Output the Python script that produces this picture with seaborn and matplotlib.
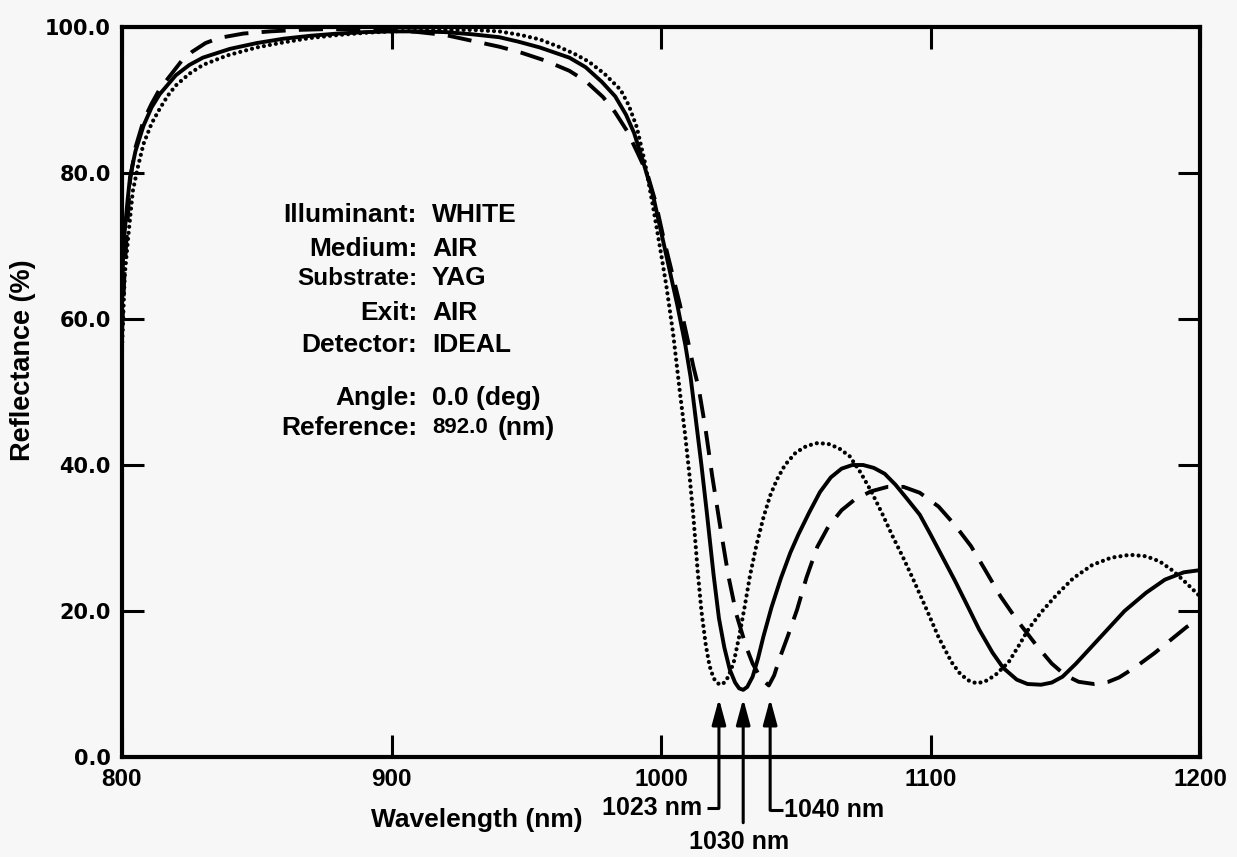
import matplotlib
matplotlib.use("Agg")
import matplotlib.pyplot as plt
import seaborn as sns
import pandas as pd

# ---------------- data ----------------
wl_solid = [800, 800.5, 802, 803, 805, 808, 811, 814, 820, 825, 830, 840, 850, 860, 870, 880, 890,
            900, 910, 920, 930, 940, 947, 955, 966, 972, 978, 983, 987, 990, 993, 997, 1000,
            1003, 1006, 1009, 1011, 1013, 1015, 1017, 1019.5, 1021.5, 1023.5, 1025.5, 1027.5,
            1029, 1030.5, 1032, 1034, 1036, 1038, 1041, 1044.5, 1048, 1051, 1055, 1059, 1063,
            1067, 1071, 1075, 1079, 1083, 1087, 1091, 1096, 1100, 1105, 1109, 1114, 1118, 1123,
            1127, 1132, 1136, 1141, 1145, 1149, 1154, 1160, 1166, 1172, 1180, 1187, 1194, 1200]
r_solid = [62, 70, 76, 79.5, 83, 86.5, 89, 90.8, 93.4, 94.8, 95.8, 97, 97.8, 98.4, 98.8, 99.1, 99.3,
           99.4, 99.4, 99.3, 99.0, 98.6, 98.0, 97.2, 95.8, 94.5, 92.5, 90.5, 88, 85.5, 82, 77, 72,
           67, 62, 56.5, 52, 46, 40, 33.5, 25, 19, 15, 12, 10.2,
           9.4, 9.2, 9.6, 11, 13.5, 16.5, 20.5, 24.5, 28, 30.5, 33.5, 36.3, 38.3,
           39.5, 40, 40, 39.6, 38.8, 37.3, 35.5, 33.2, 30.5, 27, 24.2, 20.5, 17.5, 14.3,
           12.2, 10.6, 10, 9.9, 10.2, 11, 12.8, 15.2, 17.6, 20, 22.5, 24.3, 25.3, 25.6]

wl_dotted = [800, 801, 802.5, 804, 806, 808, 811, 814, 817, 820, 825, 830, 839, 850, 860, 870, 880,
             890, 900, 910, 920, 930, 940, 948, 955, 962, 968, 973, 979, 985, 988, 991, 994, 997,
             1000, 1002, 1004.5, 1007, 1009, 1010.6, 1012, 1013.6, 1015, 1016.6, 1018, 1019.5,
             1021, 1022.3, 1023.5, 1025, 1027, 1029, 1031, 1033, 1035.4, 1038, 1040.5, 1043,
             1046, 1050, 1054, 1058, 1062, 1066, 1070, 1074, 1078, 1082, 1086, 1090, 1094,
             1098.8, 1103, 1107.8, 1111, 1114, 1117, 1120, 1124, 1129, 1133, 1136.5, 1141,
             1147, 1153, 1160, 1167, 1174, 1180, 1185, 1190, 1195, 1200]
r_dotted = [56, 66, 72, 77.5, 81, 84, 86.8, 88.8, 90.6, 92, 93.6, 94.8, 96.1, 97.2, 97.9, 98.5, 98.9,
            99.2, 99.4, 99.5, 99.6, 99.6, 99.4, 98.9, 98.3, 97.3, 96.3, 95.3, 93.6, 91.4, 89.3, 86.3, 81.5, 75.5,
            69, 64.5, 58, 50, 44, 38.5, 33, 25.5, 20, 15.4, 12.5, 10.8,
            10.1, 9.9, 10.2, 11, 13, 16.5, 20.5, 24.8, 29, 32.8, 35.8, 38,
            40, 41.7, 42.6, 43, 42.9, 42.3, 41.2, 39, 36.4, 33.4, 30.2, 27.2, 24,
            20, 16.4, 13, 11.4, 10.5, 10.1, 10.3, 11.2, 13, 15.4, 17.6, 19.8,
            22.3, 24.5, 26.3, 27.3, 27.7, 27.5, 26.8, 25.5, 23.8, 22]

wl_dashed = [800, 801, 803, 805, 808, 811, 814, 818, 822, 826, 831, 836, 845, 855, 865, 875, 890,
             900, 910, 920, 930, 940, 948, 957, 966, 972, 978.5, 983, 987.5, 991.5, 995, 998,
             1001, 1004, 1007, 1010, 1012, 1014, 1016.5, 1019, 1022, 1025, 1028, 1031.5, 1034,
             1037, 1040, 1042, 1044, 1047, 1050.5, 1054, 1058, 1062, 1067, 1072, 1078, 1084,
             1090, 1096, 1103, 1109, 1115, 1120, 1126, 1132, 1139.5, 1145, 1150, 1155, 1160.6,
             1166, 1170, 1176, 1183, 1190, 1195, 1200]
r_dashed = [58, 67, 79, 83.5, 87.2, 89.5, 91.5, 93.4, 95.3, 96.6, 97.8, 98.5, 99.1, 99.4, 99.6, 99.7, 99.7,
            99.6, 99.3, 98.9, 98.1, 97.3, 96.5, 95.4, 94, 92.6, 90.4, 88.3, 85.7, 82.6, 79.8, 76,
            71, 66.5, 62, 57, 53.5, 50.5, 45, 38.5, 31.5, 24.8, 19.5, 15.2, 12.8,
            10.8, 9.8, 11.2, 13.5, 16.5, 20.2, 24.6, 28.8, 31.5, 33.8, 35.3, 36.4, 37,
            37, 36.2, 34.3, 31.8, 28.9, 25.8, 22, 18.8, 15.2, 12.8, 11.2, 10.3, 10,
            10.3, 10.9, 12.3, 14.2, 16.3, 17.8, 19]

x_ticks = [800, 900, 1000, 1100, 1200]
x_ticklabels = ["800", "900", "1000", "1100", "1200"]
y_ticks = [0, 20, 40, 60, 80, 100]
y_ticklabels = ["0.0", "20.0", "40.0", "60.0", "80.0", "100.0"]

marker_wl = [1021.5, 1030.5, 1040.5]
marker_labels = ["1023 nm", "1030 nm", "1040 nm"]

info_keys = ["Illuminant:", "Medium:", "Substrate:", "Exit:", "Detector:", "Angle:", "Reference:"]
info_vals = ["WHITE", "AIR", "YAG", "AIR", "IDEAL", "0.0 (deg)", "892.0"]

# ---------------- styling ----------------
sns.set_style("ticks")
BG = "#f7f7f7"
plt.rcParams["font.family"] = ["Liberation Sans", "DejaVu Sans"]
plt.rcParams["font.weight"] = "bold"
for key in ["text.color", "axes.labelcolor", "xtick.color", "ytick.color", "axes.edgecolor"]:
    plt.rcParams[key] = "black"

fig = plt.figure(figsize=(12.37, 8.57), dpi=100, facecolor=BG)
ax = fig.add_axes([122 / 1237, 1 - 757 / 857, 1078 / 1237, 730 / 857])
ax.set_facecolor(BG)

df_s = pd.DataFrame({"wl": wl_solid, "R": r_solid})
df_d = pd.DataFrame({"wl": wl_dotted, "R": r_dotted})
df_a = pd.DataFrame({"wl": wl_dashed, "R": r_dashed})

sns.lineplot(data=df_s, x="wl", y="R", ax=ax, color="black", lw=2.8,
             linestyle="-", sort=True, errorbar=None)
sns.lineplot(data=df_d, x="wl", y="R", ax=ax, color="black", lw=3.0,
             linestyle=(0, (0.01, 1.45)), dash_capstyle="round", sort=True, errorbar=None)
sns.lineplot(data=df_a, x="wl", y="R", ax=ax, color="black", lw=2.8,
             linestyle=(0, (6.2, 3.4)), sort=True, errorbar=None)

ax.set_xlim(800, 1200)
ax.set_ylim(0, 100)
ax.set_xticks(x_ticks)
ax.set_xticklabels(x_ticklabels, fontsize=17.5, fontweight="bold", family="Liberation Sans")
ax.set_yticks(y_ticks)
ax.set_yticklabels(y_ticklabels, fontsize=15, fontweight="bold", family="DejaVu Sans")
ax.tick_params(axis="both", which="major", direction="in", length=16, width=2.2,
               top=True, right=True, color="black", labelcolor="black")
ax.tick_params(axis="x", pad=8)
ax.tick_params(axis="y", pad=8)
for s in ax.spines.values():
    s.set_linewidth(3)
    s.set_color("black")
    s.set_visible(True)

ax.set_xlabel("Wavelength (nm)", fontsize=19, fontweight="bold", color="black")
ax.xaxis.set_label_coords((477 - 122) / 1078, -(820 - 757) / 730)
ax.xaxis.label.set_va("center")
ax.set_ylabel("Reflectance (%)", fontsize=19.5, fontweight="bold", color="black")
ax.yaxis.set_label_coords((23 - 122) / 1078, (757 - 360) / 730)
ax.yaxis.label.set_va("center")

# ---------------- info text block ----------------
row_y = [74.2, 69.6, 65.6, 60.8, 56.4, 49.2, 45.1]
key_x, val_x = 909.5, 915.0
for k, v, yy in zip(info_keys, info_vals, row_y):
    ax.text(key_x, yy, k, ha="right", va="center",
            fontsize=17.5 if k == "Substrate:" else 19, fontweight="bold", color="black")
    ax.text(val_x, yy, v, ha="left", va="center",
            fontsize=16 if v == "892.0" else 19, fontweight="bold", color="black")
ax.text(939.5, row_y[-1], "(nm)", ha="left", va="center", fontsize=19, fontweight="bold",
        color="black")

# ---------------- wavelength markers (arrows below the minima) ----------------
tip = 8.0
ends = [-7.0, -9.0, -7.3]
for wl, yend in zip(marker_wl, ends):
    ax.annotate("", xy=(wl, tip), xytext=(wl, yend),
                arrowprops=dict(arrowstyle="-|>,head_length=1.55,head_width=0.42",
                                lw=2.2, color="black", shrinkA=0, shrinkB=0),
                annotation_clip=False)
# label stubs and texts
ax.plot([marker_wl[0] - 4.5, marker_wl[0]], [ends[0], ends[0]], color="black", lw=2.2,
        clip_on=False, solid_capstyle="butt")
ax.text(marker_wl[0] - 6.3, ends[0], marker_labels[0], ha="right", va="center",
        fontsize=18, fontweight="bold", clip_on=False, color="black")
ax.plot([marker_wl[2], marker_wl[2] + 4.8], [ends[2], ends[2]], color="black", lw=2.2,
        clip_on=False, solid_capstyle="butt")
ax.text(marker_wl[2] + 5.2, ends[2], marker_labels[2], ha="left", va="center",
        fontsize=18, fontweight="bold", clip_on=False, color="black")
ax.text(marker_wl[1] - 1.5, -11.6, marker_labels[1], ha="center", va="center",
        fontsize=18, fontweight="bold", clip_on=False, color="black")

fig.savefig("out.png", dpi=100, facecolor=BG)
